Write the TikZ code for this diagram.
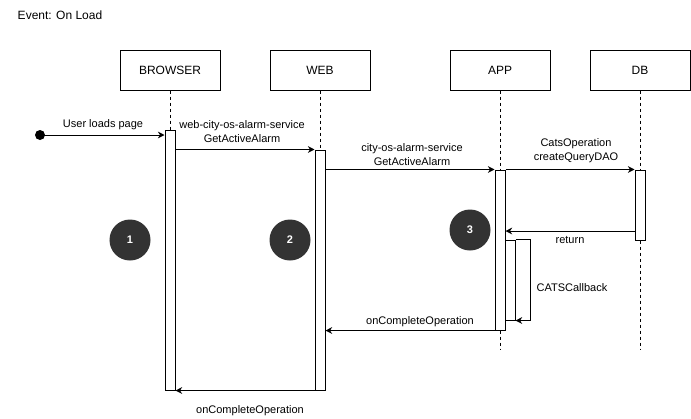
\documentclass[tikz,border=0pt]{standalone}
\usepackage{fontspec}
\setmainfont{Liberation Sans}
\usetikzlibrary{arrows.meta}
\definecolor{numfill}{HTML}{333333}
\begin{document}
\begin{tikzpicture}[x=0.75pt,y=-0.75pt,line width=0.75pt,
            head/.style={draw,minimum width=75pt,minimum height=30pt,font=\fontsize{9}{11}\selectfont},
            act/.style={draw,fill=white,minimum width=7.5pt,inner sep=0pt},
            life/.style={dash pattern=on 2.25pt off 2.25pt},
            msg/.style={-{Stealth[length=5pt,width=5pt]}},
            lbl/.style={font=\fontsize{8.25}{10.5}\selectfont,align=center,inner sep=0pt},
            num/.style={circle,draw=black!80,fill=numfill,minimum size=30pt,inner sep=0pt,text=white,font=\fontsize{8.25}{10}\selectfont\bfseries},
        ]
    \useasboundingbox (0,0) rectangle (691,418);
    \node (title) at (60,15) [font=\fontsize{9}{11}\selectfont] {Event: On Load};

    % participants
    \node[head] (browser) at (170,70) {BROWSER};
    \node[head] (web) at (320,70) {WEB};
    \node[head] (app) at (500,70) {APP};
    \node[head] (db) at (640,70) {DB};

    \coordinate (browserend) at (170,390);
    \coordinate (webend) at (320,390);
    \coordinate (append) at (500,350);
    \coordinate (dbend) at (640,350);
    \draw[life] (browser.south) -- (browserend);
    \draw[life] (web.south) -- (webend);
    \draw[life] (app.south) -- (append);
    \draw[life] (db.south) -- (dbend);

    % activations
    \node[act,minimum height=195pt] (actbrowser) at (170,260) {};
    \node[act,minimum height=180pt] (actweb) at (320,270) {};
    \node[act,minimum height=120pt] (actapp) at (500,250) {};
    \node[act,minimum height=60pt] (actself) at (510,280) {};
    \node[act,minimum height=52.5pt] (actdb) at (640,205) {};

    % messages
    \node[circle,fill,inner sep=0pt,minimum size=7.5pt] (start) at (40,135) {};
    \draw[msg] (start.center) -- (actbrowser.west |- start);
    \node[lbl] (l1) at (103,125) {User loads page};

    \draw[msg] (actbrowser.east |- actweb.north) -- (actweb.north west);
    \node[lbl] (l2) at (242,131.5) {web-city-os-alarm-service\\GetActiveAlarm};

    \draw[msg] (actweb.east |- actapp.north) -- (actapp.north west);
    \node[lbl] (l3) at (412,155) {city-os-alarm-service\\GetActiveAlarm};

    \draw[msg] (actapp.north east) -- (actdb.north west);
    \node[lbl] (l4) at (576,151) {CatsOperation\\createQueryDAO};

    \coordinate (ret) at (0,231);
    \draw[msg] (actdb.west |- ret) -- (actapp.east |- ret);
    \node[lbl] (l5) at (570,240) {return};

    \draw[msg] (actself.north east) -- ++(15,0) |- (actself.south east);
    \node[lbl] (l6) at (572,288) {CATSCallback};

    \draw[msg] (actapp.south west) -- (actweb.east |- actapp.south);
    \node[lbl] (l7) at (420,322) {onCompleteOperation};

    \draw[msg] (actweb.south west) -- (actbrowser.south east);
    \node[lbl] (l8) at (250,411) {onCompleteOperation};

    % step markers
    \node[num] (n1) at (130,240) {1};
    \node[num] (n2) at (290,240) {2};
    \node[num] (n3) at (470,230) {3};
\end{tikzpicture}
\end{document}
